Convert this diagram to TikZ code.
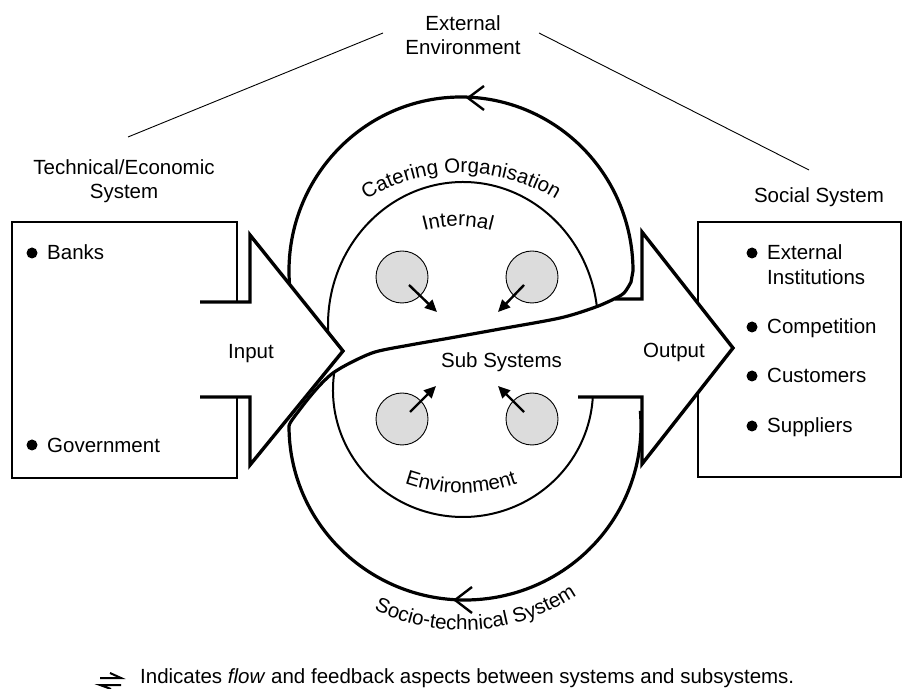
\documentclass[tikz,border=0pt]{standalone}
\usepackage{fontspec}
\setmainfont{Liberation Sans}
\usetikzlibrary{arrows.meta,decorations.text}
\newcommand\lblfont{\fontsize{20.5}{24}\selectfont}
\definecolor{blobgray}{HTML}{DCDCDC}

\begin{document}
\begin{tikzpicture}[x=1pt,y=1pt,
  every node/.style={font=\lblfont, inner sep=0pt},
  sysbox/.style={draw, line width=1.8pt},
  bigarrow/.style={draw, fill=white, line width=3.4pt, line join=miter},
  loopline/.style={line width=3.2pt},
  innerline/.style={line width=2pt},
  guide/.style={line width=0.9pt},
  blob/.style={circle, draw, fill=blobgray, line width=0.9pt, minimum size=52pt},
  flowarrow/.style={line width=2.4pt, -{Triangle[length=12pt,width=11pt]}},
  chevron/.style={line width=2.4pt, line join=miter},
  bulletdot/.style={circle, fill, minimum size=11pt},
  listitem/.style={anchor=base west},
  harpoon/.style={line width=2pt},
]
\useasboundingbox (0,0) rectangle (904,688);

% headings
\node[align=center] (ee) at (463,652.5) {External\\Environment};
\node[align=center] (tes) at (124,507) {Technical/Economic\\System};
\node[anchor=base] (soc) at (819,485) {Social System};

% guide lines from the external environment to both systems
\coordinate (eeL) at (383,655);
\coordinate (eeR) at (539,655);
\coordinate (tesT) at (128,551);
\coordinate (socT) at (809,518);
\draw[guide] (eeL) -- (tesT);
\draw[guide] (eeR) -- (socT);

% system boxes
\draw[sysbox] (12,210) rectangle (237,466);
\draw[sysbox] (698,211) rectangle (901,466);

% input and output arrows
\draw[bigarrow] (200,386) -- (250,386) -- (250,453) -- (343,337) -- (250,223) -- (250,291) -- (200,291);
\draw[bigarrow] (615,389) -- (642,389) -- (642,456) -- (733,340) -- (642,224) -- (642,291) -- (578,291);

% outer S-shaped loop: catering organisation above, socio-technical system below
\draw[loopline] ([shift={(461,417)}]184:172 and 174)
  arc[start angle=184, end angle=0, x radius=172, y radius=174]
  -- plot[smooth] coordinates {(631,406) (624,395) (612,388) (593,380) (560,370) (500,359)
     (450,350) (410,343) (375,336) (350,325) (333,315) (321,304) (308,289) (292,268) (289,262)}
  arc[start angle=180, end angle=365, x radius=176, y radius=174];

% inner arcs: internal (top) and environment (bottom)
\draw[innerline] ([shift={(463,363)}]183:135 and 143)
  arc[start angle=183, end angle=7, x radius=135, y radius=143];
\draw[innerline] ([shift={(463,298)}]172:130 and 127)
  arc[start angle=172, end angle=357, x radius=130, y radius=127];

% direction marks on the outer loop
\draw[chevron] (484,602) -- (468,590) -- (484,578);
\draw[chevron] (472,101) -- (455,88) -- (472,75);

% sub systems
\node[blob] (ul) at (402,411) {};
\node[blob] (ur) at (532,411) {};
\node[blob] (ll) at (402,269) {};
\node[blob] (lr) at (532,269) {};
\coordinate (ulT) at (437,376);
\coordinate (urT) at (498,376);
\coordinate (llT) at (436,302);
\coordinate (lrT) at (498,302);
\draw[flowarrow] ([shift={(7,-8)}]ul.center) -- (ulT);
\draw[flowarrow] ([shift={(-8,-8)}]ur.center) -- (urT);
\draw[flowarrow] ([shift={(8,7)}]ll.center) -- (llT);
\draw[flowarrow] ([shift={(-8,7)}]lr.center) -- (lrT);

% curved labels
\path[decorate, decoration={text along path, text align=center,
      text={|\lblfont|Catering Organisation}}]
  ([shift={(461,333)}]150:182) arc[start angle=150, end angle=30, radius=182];
\path[decorate, decoration={text along path, text align=center,
      text={|\lblfont|Internal}}]
  ([shift={(458,333)}]120:129) arc[start angle=120, end angle=60, radius=129];
\path[decorate, decoration={text along path, text align=center,
      text={|\lblfont|Environment}}]
  ([shift={(461,364)}]240:169) arc[start angle=240, end angle=300, radius=169];
\path[decorate, decoration={text along path, text align=center,
      text={|\lblfont|Socio-technical System}}]
  ([shift={(463,262)}]234:204) arc[start angle=234, end angle=314, radius=204];

% arrow labels
\node[anchor=base] (in) at (251,329) {Input};
\node[anchor=base] (out) at (674,330) {Output};
\node[anchor=base] (sub) at (501.5,320) {Sub Systems};

% technical/economic system members
\node[bulletdot] (lb1) at (32,435) {};
\node[listitem] (banks) at (47,428) {Banks};
\node[bulletdot] (lb2) at (32,243) {};
\node[listitem] (gov) at (47,235) {Government};

% social system members
\node[bulletdot] (rb1) at (752,435) {};
\node[listitem] (extinst) at (767,428) {External};
\node[listitem] (extinst2) at (767,403) {Institutions};
\node[bulletdot] (rb2) at (752,361) {};
\node[listitem] (comp) at (767,354) {Competition};
\node[bulletdot] (rb3) at (752,312) {};
\node[listitem] (cust) at (767,305) {Customers};
\node[bulletdot] (rb4) at (752,262) {};
\node[listitem] (supp) at (767,255) {Suppliers};

% legend
\coordinate (hpA) at (100,10);
\coordinate (hpB) at (121,10);
\coordinate (hpC) at (110,15);
\coordinate (hpD) at (100,3);
\coordinate (hpE) at (121,3);
\coordinate (hpF) at (111,-1);
\draw[harpoon] (hpA) -- (hpB) -- (hpC);
\draw[harpoon] (hpE) -- (hpD) -- (hpF);
\node[listitem] (legend) at (140,5) {Indicates \textit{flow} and feedback aspects between systems and subsystems.};
\end{tikzpicture}
\end{document}
